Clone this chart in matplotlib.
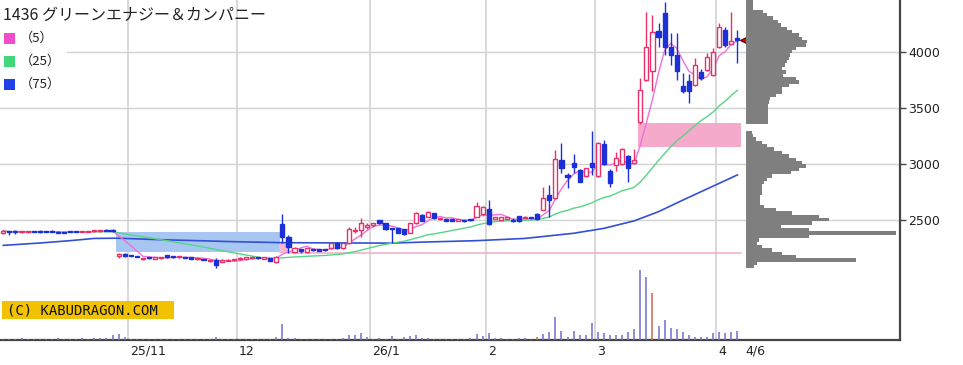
import numpy as np
import pandas as pd
import matplotlib
matplotlib.use("Agg")
import matplotlib.pyplot as plt
from matplotlib.patches import Rectangle

# ---- data (daily bars, index 0 = first visible day) ----
title = "1436 グリーンエナジー＆カンパニー"

opens = [2385, 2405, 2398, 2392, 2394, 2402, 2405, 2404, 2406, 2398,
         2392, 2404, 2405, 2396, 2398, 2400, 2402, 2414, 2412,
         2185, 2195, 2188, 2180, 2156, 2166, 2158, 2160, 2188, 2178,
         2168, 2170, 2165, 2150, 2154, 2136, 2145, 2130, 2138, 2142,
         2150, 2152, 2160, 2170, 2158, 2162, 2130,
         2470, 2353, 2215, 2240, 2215, 2238, 2236, 2237, 2250, 2295,
         2250, 2295, 2400, 2413, 2440, 2460, 2500, 2473, 2428, 2428,
         2420, 2390, 2473, 2547, 2532, 2562, 2510, 2505, 2505, 2497,
         2500, 2507, 2532, 2560, 2600, 2515, 2505, 2515, 2505, 2538,
         2520, 2528, 2560, 2595, 2725, 2700, 3038, 2905, 3009, 2949,
         2895, 3014, 2895, 3180, 2940, 2995, 3003, 3070, 3010,
         3380, 3755, 3830, 4190, 4350, 4050, 3975, 3700, 3740, 3710,
         3825, 3845, 3800, 4050, 4200, 4075, 4125]
highs = [2412, 2408, 2410, 2402, 2402, 2406, 2410, 2408, 2410, 2402,
         2396, 2408, 2408, 2404, 2406, 2408, 2410, 2418, 2420,
         2212, 2205, 2192, 2184, 2166, 2170, 2168, 2172, 2192, 2182,
         2180, 2174, 2168, 2160, 2158, 2148, 2160, 2150, 2150, 2154,
         2168, 2172, 2170, 2174, 2170, 2166, 2180,
         2560, 2370, 2262, 2245, 2255, 2242, 2240, 2242, 2300, 2300,
         2300, 2437, 2437, 2520, 2478, 2480, 2505, 2478, 2432, 2432,
         2425, 2478, 2577, 2552, 2582, 2566, 2522, 2508, 2508, 2510,
         2504, 2515, 2660, 2630, 2680, 2530, 2532, 2526, 2518, 2542,
         2538, 2532, 2565, 2795, 2815, 3130, 3193, 2920, 3092, 2960,
         2970, 3300, 3200, 3217, 2960, 3110, 3145, 3085, 3140,
         3770, 4360, 4335, 4259, 4452, 4170, 4170, 3812, 3810, 3945,
         3850, 3990, 4040, 4260, 4230, 4360, 4200]
lows = [2378, 2370, 2380, 2388, 2390, 2392, 2388, 2392, 2394, 2384,
        2384, 2392, 2392, 2392, 2394, 2396, 2398, 2400, 2398,
        2160, 2175, 2178, 2168, 2145, 2156, 2154, 2156, 2164, 2166,
        2164, 2160, 2154, 2146, 2144, 2130, 2075, 2125, 2134, 2138,
        2145, 2148, 2156, 2158, 2154, 2136, 2115,
        2300, 2210, 2210, 2210, 2212, 2228, 2226, 2228, 2246, 2248,
        2246, 2290, 2385, 2353, 2420, 2440, 2468, 2415, 2300, 2385,
        2372, 2385, 2468, 2490, 2528, 2512, 2505, 2490, 2490, 2494,
        2488, 2495, 2528, 2540, 2458, 2508, 2502, 2510, 2488, 2486,
        2516, 2518, 2505, 2590, 2530, 2690, 2920, 2786, 2920, 2840,
        2890, 2904, 2890, 2994, 2800, 2940, 2995, 2845, 3000,
        3360, 3740, 3650, 4050, 3975, 3887, 3753, 3634, 3545, 3700,
        3750, 3830, 3790, 4040, 4050, 4070, 3900]
closes = [2405, 2392, 2395, 2398, 2398, 2396, 2395, 2396, 2398, 2388,
          2388, 2396, 2396, 2400, 2402, 2404, 2406, 2404, 2405,
          2192, 2185, 2182, 2172, 2164, 2160, 2166, 2168, 2168, 2172,
          2175, 2164, 2158, 2156, 2148, 2144, 2100, 2142, 2145, 2150,
          2158, 2168, 2166, 2162, 2166, 2140, 2170,
          2350, 2260, 2255, 2228, 2250, 2232, 2230, 2232, 2295, 2252,
          2295, 2420, 2408, 2473, 2455, 2472, 2473, 2420, 2418, 2390,
          2378, 2473, 2562, 2496, 2577, 2518, 2518, 2497, 2497, 2503,
          2494, 2503, 2630, 2615, 2470, 2525, 2528, 2522, 2495, 2490,
          2528, 2522, 2510, 2700, 2680, 3050, 2965, 2885, 2979, 2845,
          2964, 2980, 3190, 3005, 2830, 3060, 3140, 2965, 3040,
          3660, 4050, 4185, 4140, 4050, 3975, 3830, 3650, 3650, 3885,
          3770, 3960, 4005, 4230, 4065, 4105, 4110]
volumes = [15, 12, 10, 18, 12, 15, 10, 12, 15, 20, 12, 10, 15, 18, 12, 20, 25,
           23, 47, 60, 27,
           15, 12, 10, 12, 10, 8, 10, 15, 12, 10, 12, 8, 10, 15,
           33,
           12, 10, 10, 12, 10, 8, 10, 12, 15,
           33, 157, 23,
           18, 12, 10, 12, 8, 10, 12, 15, 18,
           50, 50, 67, 27, 15, 18, 15, 43, 15, 27, 40, 50, 25, 23,
           15, 12, 10, 12, 15, 12, 23, 60,
           40, 67, 23, 17, 13, 13, 17, 17, 10,
           33, 60, 77, 227, 93, 33, 93, 50, 50, 167, 83, 67, 50, 50, 50, 83, 107,
           700, 627, 473, 140, 200, 123, 110, 83, 50, 33, 33, 33, 67, 83, 67, 83, 93]
vol_red_days = [88, 107]

# 75-day moving average (read at break points)
ma75_day = [0, 6, 11, 15, 19, 25, 32, 38, 46, 64, 69, 78, 86, 94, 99, 104, 108, 112, 121]
ma75_val = [2276, 2297, 2318, 2338, 2340, 2328, 2318, 2309, 2300, 2296, 2305,
            2318, 2338, 2384, 2428, 2495, 2577, 2680, 2905]

# month marks
month_pos = [20.5, 38.5, 60.5, 79.5, 97.5, 117.5]
month_lab = ["25/11", "12", "26/1", "2", "3", "4"]
last_lab = "4/6"

# price windows (gaps)
gap_down = (18.5, 45.6, 2220, 2393)
gap_up_small = (45.5, 46.9, 2212, 2297)
gap_up_line = (46.9, 121.6, 2212)
gap_up_big = (104.6, 121.6, 3152, 3366)

# volume-by-price profile, 30-yen bins from the top (4470) downwards
prof_vals = [21, 21, 21, 53, 63, 83, 98, 105, 125, 140,
             160, 170, 185, 180, 150, 138, 133, 130, 123, 118,
             110, 120, 113, 150, 160, 130, 110, 108, 90, 73,
             70, 68, 68, 68, 68, 68, 68, 0, 0, 20,
             22, 30, 50, 65, 85, 110, 130, 150, 170, 180,
             160, 135, 80, 65, 55, 48, 48, 48, 42, 42,
             42, 55, 90, 140, 220, 250, 200, 105, 190, 450,
             190, 40, 35, 50, 80, 110, 150, 330, 35, 25]

# ---- figure ----
W, H = 963, 365
fig = plt.figure(figsize=(W / 100, H / 100), dpi=100)


def fx(px):
    return px / W


def fy(py):
    return 1 - py / H


RED = "#e8306a"
BLUE = "#1c30d8"
GRID = "#d2d2d2"

ax = fig.add_axes([0, fy(340), fx(900), 340 / H])
ax.set_xlim(-0.544, 147.8)
ax.set_ylim(1431, 4467)

# volume on a twin axis (created first so the price axis keeps its right ticks)
axv = ax.twinx()
axv.set_ylim(0, 3400)
axv.set_axis_off()

price_ticks = [2500, 3000, 3500, 4000]
for p in price_ticks:
    ax.axhline(p, color=GRID, lw=1, zorder=0)
for m in month_pos:
    ax.axvline(m, color=GRID, lw=1.2, zorder=0)

# gap boxes
x0, x1, lo, hi = gap_down
ax.add_patch(Rectangle((x0, lo), x1 - x0, hi - lo, facecolor="#a8c6f2", edgecolor="none", zorder=1))
x0, x1, lo, hi = gap_up_small
ax.add_patch(Rectangle((x0, lo), x1 - x0, hi - lo, facecolor="#f5b6d0", edgecolor="none", zorder=1))
x0, x1, lo = gap_up_line
ax.plot([x0, x1], [lo, lo], color="#f5b0cc", lw=1.2, zorder=1)
x0, x1, lo, hi = gap_up_big
ax.add_patch(Rectangle((x0, lo), x1 - x0, hi - lo, facecolor="#f5aacb", edgecolor="none", zorder=1))

o = np.array(opens, float)
h = np.array(highs, float)
l = np.array(lows, float)
c = np.array(closes, float)
idx = np.arange(len(c))

# moving averages
cs = pd.Series(c)
ma5 = cs.rolling(5, min_periods=1).mean()
ma25 = cs.rolling(25, min_periods=1).mean()
ax.plot(ma75_day, ma75_val, color="#3350d4", lw=1.2, zorder=2)
ax.plot(idx, ma25, color="#55d585", lw=1, zorder=2)
ax.plot(idx, ma5, color="#f070d8", lw=1, zorder=3)

# candles
up = c >= o
dn = ~up
ax.vlines(idx[up], l[up], h[up], color=RED, lw=1, zorder=4)
ax.vlines(idx[dn], l[dn], h[dn], color=BLUE, lw=1, zorder=4)
ax.bar(idx[up], np.maximum(c[up] - o[up], 10), bottom=o[up], width=0.68,
       facecolor="white", edgecolor=RED, lw=1, zorder=5)
ax.bar(idx[dn], np.maximum(o[dn] - c[dn], 10), bottom=c[dn], width=0.68,
       facecolor=BLUE, edgecolor=BLUE, lw=1, zorder=5)

# last price marker
ax.plot(122.4, c[-1], marker="<", ms=8, color="#e00000", mec="#500000",
        mew=0.8, zorder=7, clip_on=False)

# axes styling
for s in ["top", "left"]:
    ax.spines[s].set_visible(False)
for s in ["right", "bottom"]:
    ax.spines[s].set_color("#454545")
    ax.spines[s].set_linewidth(1.6)
ax.set_yticks(price_ticks)
ax.set_yticklabels([str(p) for p in price_ticks])
ax.tick_params(axis="y", direction="out", length=4, width=1, color="#454545",
               labelsize=9, pad=2, labelcolor="#222222",
               left=False, labelleft=False, right=True, labelright=True)
ax.set_xticks([])

for pos, lab in zip(month_pos + [122], month_lab + [last_lab]):
    ax.annotate(lab, xy=(pos, 0), xycoords=("data", "axes fraction"),
                xytext=(2, -5), textcoords="offset pixels", ha="left", va="top",
                fontsize=9, color="#222222")

# volume bars
vol = np.array(volumes, float)
vcol = ["#d86050" if i in vol_red_days else "#6f6fd0" for i in idx]
axv.vlines(idx, 0, vol, colors=vcol, lw=1.1)

# volume-by-price profile
axp = fig.add_axes([fx(745.7), fy(340), fx(900 - 745.7), 340 / H])
axp.set_ylim(ax.get_ylim())
axp.set_xlim(0, 463)
axp.set_axis_off()
prof_top = np.arange(4470, 4470 - 30 * len(prof_vals), -30)
axp.barh(prof_top - 15, prof_vals, height=30, color="#7f7f7f", edgecolor="none")

# title and legend
fig.text(fx(3), fy(15), title, fontsize=11.5, va="center", color="#222222",
         family=["Noto Sans CJK JP", "DejaVu Sans"])
fig.add_artist(Rectangle((0, fy(97)), fx(67), 71 / H, transform=fig.transFigure,
                         facecolor="white", edgecolor="none", zorder=2))
leg_cols = ["#f04ccc", "#40d878", "#2040e8"]
leg_labs = ["（5）", "（25）", "（75）"]
for k, (col, lab) in enumerate(zip(leg_cols, leg_labs)):
    yc = 38 + 23 * k
    fig.add_artist(Rectangle((fx(4), fy(yc + 5.5)), fx(11), 11 / H,
                             transform=fig.transFigure, facecolor=col,
                             edgecolor="none", zorder=3))
    fig.text(fx(20), fy(yc), lab, fontsize=9.5, va="center", color="#222222",
             family=["Noto Sans CJK JP", "DejaVu Sans"], zorder=3)

# watermark
fig.add_artist(Rectangle((fx(2), fy(319)), fx(172), 18 / H, transform=fig.transFigure,
                         facecolor="#f2c200", edgecolor="none", zorder=3))
fig.text(fx(7), fy(310), "(C) KABUDRAGON.COM", fontsize=10, va="center",
         family="DejaVu Sans Mono", color="#111111", zorder=4)

fig.savefig("out.png", dpi=100)
